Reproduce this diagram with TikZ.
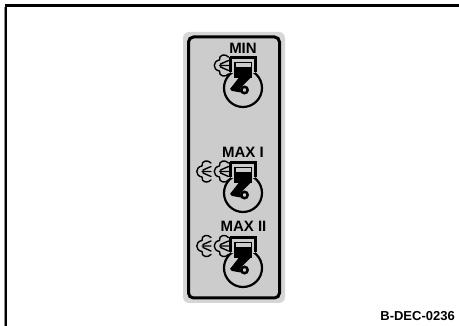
\documentclass[tikz,border=0pt]{standalone}
\usepackage{fontspec}
\setmainfont{Liberation Sans}
\definecolor{plate}{gray}{0.80}
\definecolor{rimg}{gray}{0.84}
\tikzset{
  x=1pt,y=-1pt,
  lbl/.style={font=\bfseries\fontsize{15}{15}\selectfont,inner sep=0pt},
  inkline/.style={draw=black,line width=2.2pt},
  puff/.style={draw=black,line width=1.4pt,line cap=round,line join=round},
  pics/engine/.style={code={
    \draw[inkline] (0,0) circle (19);
    \fill[plate] (-12,-31) rectangle (12,-15);
    \draw[inkline] (-12.5,-16) -- (-12.5,-30) -- (12.5,-30) -- (12.5,-16);
    \fill[black] (-13.5,-31.5) rectangle (13.5,-29);
    % piston: thin top bar, light slit, solid body
    \fill[black] (-9,-26) rectangle (9,-10);
    \fill[plate] (-7.5,-24.5) rectangle (7.5,-21);
    % rod
    \fill[black] (-4,-10.5) -- (8,-10.5) -- (-6,3.5) -- (-13,1) -- cycle;
    % crank arm and ring
    \draw[black,line width=4pt,line cap=round] (-10.5,1) -- (-2,2.5);
    \draw[black,line width=2.5pt,fill=plate] (1.5,2) circle (3.2);
  }},
  pics/puff/.style={code={
    \draw[puff] (-1,-8.5) .. controls (-4,-12) and (-11,-11) .. (-10,-5.5)
      .. controls (-17,-4.5) and (-17,4.5) .. (-10,5.5)
      .. controls (-11,11) and (-4,12) .. (-1,8.5);
    \draw[puff] (-9,-1.5) -- (-1,-5) (-10,0) -- (-1,0) (-9,1.5) -- (-1,5);
  }}
}
\begin{document}
\begin{tikzpicture}
\useasboundingbox (0,0) rectangle (459,326);
\fill[white] (0,0) rectangle (459,326);
% outer frame
\draw[black,line width=2.2pt] (6,326) -- (6,5.5) -- (459,5.5);
\draw[black!45,line width=1pt] (4.5,326) -- (4.5,7);
% plate
\fill[rimg,rounded corners=6pt] (183,32) rectangle (285,303);
\draw[draw=black,line width=3pt,fill=plate,rounded corners=5pt] (188.5,37) rectangle (279.5,298);
% icons
\pic at (243,88) {engine};
\pic at (243,193) {engine};
\pic at (243,268) {engine};
\pic at (229.5,65.5) {puff};
\pic at (229.5,171.5) {puff};
\pic at (212,171.5) {puff};
\pic at (229.5,246) {puff};
\pic at (212,246) {puff};
% labels
\node[lbl] (min) at (243,48.5) {MIN};
\node[lbl] (maxi) at (243,152) {MAX I};
\node[lbl] (maxii) at (243.5,226.5) {MAX II};
\node[font=\bfseries\fontsize{13}{13}\selectfont,inner sep=0pt,anchor=east] (code) at (455,316.5) {B-DEC-0236};
\end{tikzpicture}
\end{document}
